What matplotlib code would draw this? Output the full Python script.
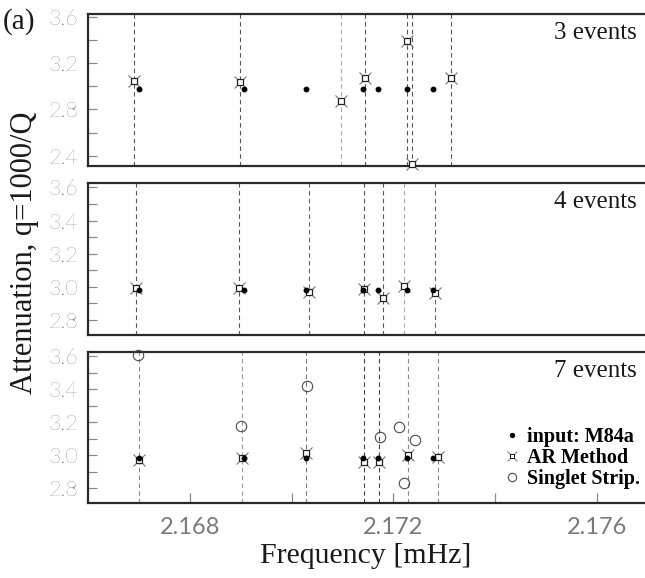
import matplotlib
matplotlib.use("Agg")
import matplotlib.pyplot as plt
from matplotlib.lines import Line2D
from matplotlib.legend_handler import HandlerTuple
from matplotlib.ticker import FixedLocator, FuncFormatter

# ---- data -------------------------------------------------------------
freq_input = [2.16700, 2.16906, 2.17027, 2.17141, 2.17170, 2.17227, 2.17278]
q_input = [2.98, 2.98, 2.98, 2.98, 2.98, 2.98, 2.98]

freq_ar_3 = [2.16690, 2.16898, 2.17097, 2.17144, 2.17227, 2.17237, 2.17314]
q_ar_3 = [3.05, 3.04, 2.87, 3.07, 3.39, 2.33, 3.07]

freq_ar_4 = [2.16694, 2.16896, 2.17034, 2.17142, 2.17180, 2.17221, 2.17282]
q_ar_4 = [2.99, 2.99, 2.97, 2.985, 2.935, 3.005, 2.96]

freq_ar_7 = [2.16700, 2.16902, 2.17028, 2.17142, 2.17172, 2.17229, 2.17288]
q_ar_7 = [2.97, 2.98, 3.01, 2.96, 2.96, 3.00, 2.99]

freq_singlet_7 = [2.16698, 2.16900, 2.17030, 2.17174, 2.17211, 2.17221, 2.17242]
q_singlet_7 = [3.61, 3.18, 3.42, 3.11, 3.17, 2.83, 3.09]

panel_labels = ["3 events", "4 events", "7 events"]
x_tick_labels = ["2.168", "2.172", "2.176"]

# ---- styling ----------------------------------------------------------
SERIF = ["Liberation Serif", "DejaVu Serif"]
TICK_FONT = dict(family=["Lato", "DejaVu Sans"], weight="light", size=15.5, color="#505050")
XTICK_FONT = dict(family=["Lato", "DejaVu Sans"], weight="normal", size=17, color="#7a7a7a")
SPINE = "#2a2a2a"
TICKC = "#8a8a8a"

line_colors = [
    ["#555555", "#555555", "#aaaaaa", "#555555", "#555555", "#555555", "#555555"],
    ["#555555", "#555555", "#666666", "#555555", "#555555", "#aaaaaa", "#666666"],
    ["#8a8a8a", "#9a9a9a", "#777777", "#444444", "#444444", "#888888", "#888888"],
]

fig = plt.figure(figsize=(6.45, 5.78), dpi=100)

left, width = 88 / 645, 1 - 88 / 645
boxes = [(14, 166), (183, 335), (352, 503)]
ylims = [(2.31, 3.626), (2.709, 3.627), (2.709, 3.627)]
xlim = (2.16599, 2.17695)

ar_sets = [(freq_ar_3, q_ar_3), (freq_ar_4, q_ar_4), (freq_ar_7, q_ar_7)]

AR_X = dict(ls="none", marker="x", ms=8.5, mew=0.8, color="#777777")
AR_S = dict(ls="none", marker="s", ms=4.2, mew=0.9, mfc="white", mec="#222222")


def draw_ar(ax, fx, qy):
    ax.plot(fx, qy, zorder=4, clip_on=False, **AR_X)
    ax.plot(fx, qy, zorder=5, clip_on=False, **AR_S)


axes = []
for i, ((top, bot), yl, (fx, qy)) in enumerate(zip(boxes, ylims, ar_sets)):
    ax = fig.add_axes([left, 1 - bot / 578, width, (bot - top) / 578])
    axes.append(ax)
    ax.set_xlim(*xlim)
    ax.set_ylim(*yl)

    for xv, c in zip(fx, line_colors[i]):
        ax.axvline(xv, color=c, lw=0.8, ls=(0, (4.0, 3.0)), zorder=1)

    ax.plot(freq_input, q_input, ls="none", marker="o", ms=3.2, color="black", zorder=6)
    draw_ar(ax, fx, qy)

    ax.text((637 - 88) / 557, 0.833, panel_labels[i], transform=ax.transAxes,
            ha="right", va="baseline", fontsize=18, family=SERIF, color="#1a1a1a")

    for s in ["top", "bottom", "left"]:
        ax.spines[s].set_color(SPINE)
        ax.spines[s].set_linewidth(1.6)
    ax.spines["right"].set_visible(False)

    if i == 0:
        ax.yaxis.set_major_locator(FixedLocator([2.4, 2.8, 3.2, 3.6]))
        ax.yaxis.set_minor_locator(FixedLocator([2.6, 3.0, 3.4]))
    else:
        ax.yaxis.set_major_locator(FixedLocator([2.8, 3.0, 3.2, 3.4, 3.6]))
        ax.yaxis.set_minor_locator(FixedLocator([2.9, 3.1, 3.3, 3.5]))
    ax.yaxis.set_major_formatter(FuncFormatter(lambda v, p: f"{v:.1f}"))
    ax.tick_params(axis="y", which="both", direction="in", length=6.5, width=0.9,
                   color=TICKC, pad=7, right=False)
    for lab in ax.get_yticklabels():
        lab.set(**TICK_FONT)

    if i < 2:
        ax.tick_params(axis="x", which="both", bottom=False, top=False, labelbottom=False)
    else:
        ax.xaxis.set_major_locator(FixedLocator([2.168, 2.172, 2.176]))
        ax.xaxis.set_minor_locator(FixedLocator([2.170, 2.174]))
        ax.set_xticklabels(x_tick_labels)
        ax.tick_params(axis="x", which="both", direction="in", length=7, width=0.9,
                       color=TICKC, pad=10, top=False)
        for lab in ax.get_xticklabels():
            lab.set(**XTICK_FONT)

# singlet strip estimates on the 7-event panel
ax3 = axes[2]
ax3.plot(freq_singlet_7, q_singlet_7, ls="none", marker="o", ms=7.5, mfc="none",
         mec="#4a4a4a", mew=0.8, zorder=5, clip_on=False)

# legend
h_in = Line2D([], [], ls="none", marker="o", ms=2.8, color="black")
h_ar_x = Line2D([], [], ls="none", marker="x", ms=6.5, mew=0.7, color="#777777")
h_ar_s = Line2D([], [], ls="none", marker="s", ms=3.4, mew=0.8, mfc="white", mec="#222222")
h_ss = Line2D([], [], ls="none", marker="o", ms=6, mfc="none", mec="#4a4a4a", mew=0.8)
leg = ax3.legend([h_in, (h_ar_x, h_ar_s), h_ss],
                 ["input: M84a", "AR Method", "Singlet Strip."],
                 handler_map={tuple: HandlerTuple(ndivide=1, pad=0)},
                 loc="lower right", bbox_to_anchor=((640 - 88) / 557, 0.095),
                 frameon=False, handlelength=0.8, handletextpad=0.35,
                 labelspacing=0.05, borderpad=0.0, borderaxespad=0.0,
                 prop=dict(family=SERIF, weight="bold", size=14.5))

fig.text(25 / 645, 1 - 253 / 578, "Attenuation, q=1000/Q", rotation=90,
         ha="center", va="center", fontsize=22, family=SERIF, color="#1a1a1a")
fig.text(366 / 645, 1 - 563 / 578, "Frequency [mHz]", ha="center", va="baseline",
         fontsize=21.5, family=SERIF, color="#1a1a1a")
fig.text(3 / 645, 1 - 29 / 578, "(a)", ha="left", va="baseline",
         fontsize=21, family=SERIF, color="#1a1a1a")

fig.savefig("out.png", dpi=100)
